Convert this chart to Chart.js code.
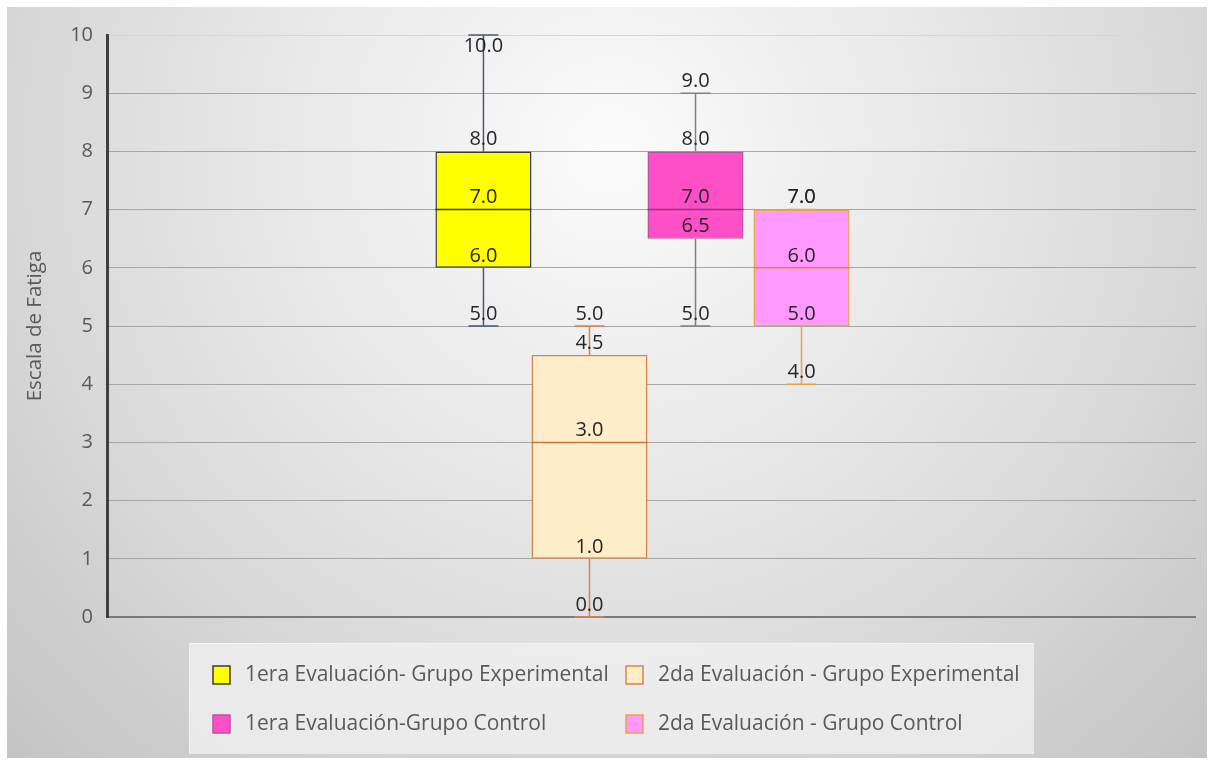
<!DOCTYPE html>
<html>
<head>
<meta charset="utf-8">
<script src="https://cdn.jsdelivr.net/npm/chart.js@4.4.1/dist/chart.umd.min.js"></script>
<style>
  body { margin: 0; background: #fff; }
  canvas { display: block; }
</style>
</head>
<body>
<canvas id="boxChart" width="1212" height="765"></canvas>
<script>
// five-number summary per group
const seriesNames = [
  '1era Evaluación- Grupo Experimental',
  '2da Evaluación - Grupo Experimental',
  '1era Evaluación-Grupo Control',
  '2da Evaluación - Grupo Control'
]
const minValues = [5, 0, 5, 4]
const q1Values = [6, 1, 6.5, 5]
const medianValues = [7, 3, 7, 6]
const q3Values = [8, 4.5, 8, 7]
const maxValues = [10, 5, 9, 7]
const yMin = 0
const yMax = 10

// styling
const fillColors = ['#ffff00', '#ffecc8', '#ff4fc6', '#ff99ff']
const borderColors = ['#3a3a3a', '#d8854a', '#b8559c', '#e9a448']
const whiskerColors = ['#4a5a70', '#d8854a', '#808080', '#e9a448']
const medianColors = ['#3a3a3a', '#c8743c', '#8a3b78', '#d98a3c']
const barPercents = [0.906, 1.094, 0.906, 0.906]
const font = '"Open Sans", "DejaVu Sans", sans-serif'

const boxPlot = {
  id: 'boxPlot',
  afterLayout(chart) {
    // pull the category band in a little on the right so the group sits left of centre
    const x = chart.scales.x
    x.right -= 18
    x.configure()
  },
  beforeDraw(chart) {
    const {ctx, width, height} = chart
    ctx.save()
    ctx.fillStyle = '#ffffff'
    ctx.fillRect(0, 0, width, height)
    const g = ctx.createRadialGradient(610, 150, 0, 610, 150, 850)
    g.addColorStop(0, '#fbfbfb')
    g.addColorStop(0.55, '#e0e0e0')
    g.addColorStop(1, '#c4c4c4')
    ctx.fillStyle = g
    ctx.fillRect(7, 7, width - 12, height - 14)
    ctx.restore()
  },
  afterDatasetsDraw(chart) {
    const {ctx, chartArea} = chart
    const y = chart.scales.y
    const py = v => y.getPixelForValue(v)
    ctx.save()
    chart.data.datasets.forEach((ds, i) => {
      const bar = chart.getDatasetMeta(i).data[0]
      const x = bar.x
      const half = bar.width / 2
      const cap = 15

      // whiskers and caps
      ctx.strokeStyle = whiskerColors[i]
      ctx.lineWidth = 1.5
      ctx.beginPath()
      ctx.moveTo(x, py(q3Values[i])); ctx.lineTo(x, py(maxValues[i]))
      ctx.moveTo(x, py(q1Values[i])); ctx.lineTo(x, py(minValues[i]))
      ctx.moveTo(x - cap, py(maxValues[i])); ctx.lineTo(x + cap, py(maxValues[i]))
      ctx.moveTo(x - cap, py(minValues[i])); ctx.lineTo(x + cap, py(minValues[i]))
      ctx.stroke()

      // median
      ctx.strokeStyle = medianColors[i]
      ctx.beginPath()
      ctx.moveTo(x - half, py(medianValues[i]))
      ctx.lineTo(x + half, py(medianValues[i]))
      ctx.stroke()

      // value labels sit just above each point
      ctx.font = '20px ' + font
      ctx.fillStyle = '#262626'
      ctx.textAlign = 'center'
      ctx.textBaseline = 'middle'
      const vals = [minValues[i], q1Values[i], medianValues[i], q3Values[i], maxValues[i]]
      vals.forEach(v => {
        const ty = Math.max(py(v) - 12, chartArea.top + 11)
        ctx.fillText(v.toFixed(1), x, ty)
      })
    })
    ctx.restore()
  },
  afterDraw(chart) {
    const {ctx} = chart
    const top = chart.chartArea.bottom + 26
    ctx.save()
    ctx.fillStyle = 'rgba(240,240,240,0.8)'
    ctx.fillRect(189, top, 844, 110)
    ctx.strokeStyle = 'rgba(250,250,250,0.6)'
    ctx.lineWidth = 1
    ctx.strokeRect(189.5, top + 0.5, 844, 110)

    const cols = [213, 626]
    const rows = [top + 32, top + 81]
    ctx.font = '21px ' + font
    ctx.textAlign = 'left'
    ctx.textBaseline = 'middle'
    seriesNames.forEach((name, i) => {
      const cx = cols[i % 2]
      const cy = rows[Math.floor(i / 2)]
      ctx.fillStyle = fillColors[i]
      ctx.fillRect(cx, cy - 9, 17, 18)
      ctx.strokeStyle = borderColors[i]
      ctx.lineWidth = 1.5
      ctx.strokeRect(cx, cy - 9, 17, 18)
      ctx.fillStyle = '#595959'
      ctx.fillText(name, cx + 32, cy)
    })
    ctx.restore()
  }
}

const datasets = seriesNames.map((name, i) => ({
  label: name,
  data: [[q1Values[i], q3Values[i]]],
  backgroundColor: fillColors[i],
  borderColor: borderColors[i],
  borderWidth: 1.5,
  borderSkipped: false,
  barPercentage: barPercents[i],
  categoryPercentage: 0.396
}))

new Chart(document.getElementById('boxChart'), {
  type: 'bar',
  data: { labels: [''], datasets: datasets },
  options: {
    responsive: false,
    animation: false,
    devicePixelRatio: 1,
    layout: { padding: { left: 0, right: 16, top: 35, bottom: 148 } },
    plugins: { legend: { display: false }, tooltip: { enabled: false } },
    scales: {
      x: { display: false },
      y: {
        min: yMin,
        max: yMax,
        afterFit: s => { s.width = 107 },
        ticks: { stepSize: 1, padding: 14, color: '#595959', font: { family: font, size: 20 } },
        grid: {
          drawTicks: false,
          color: c => c.tick.value === 0 ? '#7a7a7a' : (c.tick.value === 10 ? '#d6d6d6' : '#a6a6a6'),
          lineWidth: c => c.tick.value === 0 ? 2 : 1
        },
        border: { color: '#404040', width: 3 },
        title: {
          display: true,
          text: 'Escala de Fatiga',
          color: '#595959',
          font: { family: font, size: 20.5 },
          padding: { top: 23, bottom: 0 }
        }
      }
    }
  },
  plugins: [boxPlot]
})
</script>
</body>
</html>
